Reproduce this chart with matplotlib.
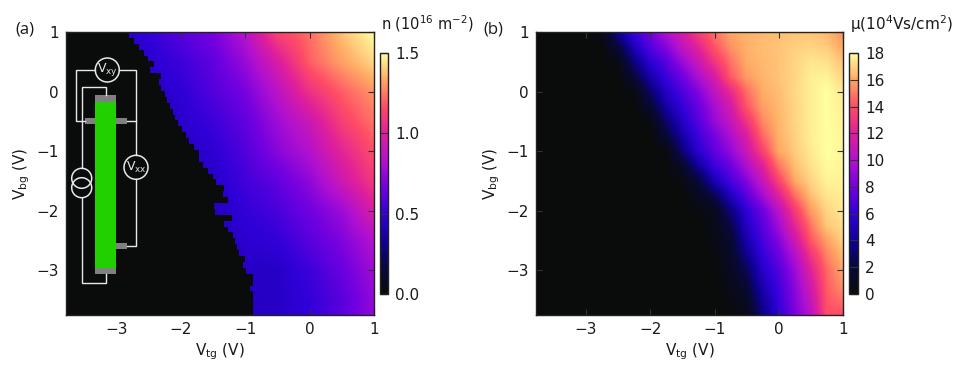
# -*- coding: utf-8 -*-
import numpy as np
import matplotlib
matplotlib.use("Agg")
import matplotlib.pyplot as plt
from matplotlib.colors import LinearSegmentedColormap
from matplotlib.patches import Rectangle, Circle

############################ DATA ##################################
# (a) carrier density read from the colours, 1e16 m^-2
n_vtg = [-3.0, -2.5, -2.0, -1.5, -1.0, -0.5, 0.0, 0.5, 1.0]
n_vbg = [1.0, 0.5, 0.0, -0.5, -1.0, -1.5, -2.0, -2.5, -3.0, -3.5]
n_map = [
    [.45, .50, .60, .68, .85, 1.14, 1.23, 1.38, 1.50],
    [.43, .47, .53, .62, .76, .97, 1.20, 1.32, 1.42],
    [.40, .44, .49, .58, .68, .86, 1.07, 1.20, 1.30],
    [.40, .42, .46, .53, .62, .78, .92, 1.12, 1.24],
    [.40, .40, .44, .48, .58, .72, .84, 1.02, 1.17],
    [.40, .40, .42, .45, .54, .62, .74, .93, 1.10],
    [.40, .40, .40, .43, .50, .56, .66, .77, .98],
    [.40, .40, .40, .42, .47, .50, .60, .70, .84],
    [.40, .40, .40, .41, .45, .45, .53, .64, .78],
    [.40, .40, .40, .41, .44, .45, .50, .60, .75],
]
# V_tg where the density starts, one value for each row of the measurement
n_onset = [-2.80, -2.72, -2.64, -2.57, -2.50, -2.41, -2.48, -2.30, -2.34, -2.30,
           -2.24, -2.22, -2.17, -2.12, -2.09, -2.04, -1.98, -1.92, -1.87, -1.80,
           -1.71, -1.71, -1.65, -1.57, -1.50, -1.45, -1.33, -1.34, -1.27, -1.48,
           -1.46, -1.21, -1.33, -1.27, -1.19, -1.16, -1.13, -1.10, -1.00, -1.03,
           -0.98, -0.88, -0.88, -0.92, -0.88, -0.88, -0.88, -0.88]

# (b) mobility, 1e4 Vs/cm2
mu_vtg = [-3.0, -2.75, -2.5, -2.25, -2.0, -1.75, -1.5, -1.25, -1.0, -0.75, -0.5,
          -0.25, 0.0, 0.25, 0.5, 0.75, 1.0]
mu_vbg = [1.0, 0.75, 0.5, 0.25, 0.0, -0.25, -0.5, -0.75, -1.0, -1.25, -1.5, -1.75,
          -2.0, -2.25, -2.5, -2.75, -3.0, -3.25, -3.5, -3.75]
mu_map = [
    [0, .5, 4, 6.5, 8, 10, 11.5, 13.5, 14.8, 16, 16.2, 16.4, 16.5, 16.6, 16.6, 16.4, 15.5],
    [0, 0, 2, 4.9, 7.1, 8.6, 10.6, 12.2, 14.2, 15.5, 16.2, 16.5, 16.6, 16.9, 17, 16.8, 16],
    [0, 0, .4, 3.4, 5.7, 7.2, 9.2, 11, 13.1, 14.8, 16.1, 16.4, 16.6, 17, 17.4, 17.3, 16.6],
    [0, 0, 0, 1.9, 4.5, 6.3, 7.9, 9.8, 11.6, 14.3, 15.7, 16.3, 16.6, 17, 17.6, 17.7, 17],
    [0, 0, 0, .3, 3, 5.3, 6.9, 8.5, 10.5, 12.55, 14.75, 16.1, 16.5, 17.1, 17.6, 18, 17.5],
    [0, 0, 0, 0, 1.6, 4.3, 6.1, 7.7, 9.6, 11.5, 14.2, 15.8, 16.4, 17, 17.6, 18, 17.6],
    [0, 0, 0, 0, .3, 3, 5.3, 7.1, 9.1, 10.7, 13, 15.3, 16.3, 17, 17.6, 18, 17.7],
    [0, 0, 0, 0, 0, 1.8, 4.3, 6.4, 8.1, 9.8, 11.8, 14.6, 16.2, 16.9, 17.6, 18, 17.8],
    [0, 0, 0, 0, 0, .2, 3.2, 5.7, 7.4, 9, 11, 13.6, 16, 16.8, 17.5, 18, 17.8],
    [0, 0, 0, 0, 0, 0, 1.4, 4, 6.3, 7.8, 9.8, 12, 14.9, 16.5, 17.3, 17.9, 17.8],
    [0, 0, 0, 0, 0, 0, .3, 1.9, 4.6, 6.7, 8.5, 10.8, 13.6, 16, 17, 17.7, 17.7],
    [0, 0, 0, 0, 0, 0, 0, .9, 2.5, 5.0, 7.2, 9.4, 12, 14.7, 16.5, 17.4, 17.6],
    [0, 0, 0, 0, 0, 0, 0, .2, .8, 3.3, 5.9, 7.8, 10.3, 13.3, 15.7, 17, 17.5],
    [0, 0, 0, 0, 0, 0, 0, 0, .6, 2.3, 5.2, 7.2, 9.4, 12.3, 14.9, 16.7, 17.2],
    [0, 0, 0, 0, 0, 0, 0, 0, .4, 1.6, 4.5, 6.7, 8.5, 11.1, 14.2, 15.8, 16.9],
    [0, 0, 0, 0, 0, 0, 0, 0, .2, 1.3, 3.6, 6.1, 7.7, 10, 13, 15.2, 16.4],
    [0, 0, 0, 0, 0, 0, 0, 0, 0, 1, 2.6, 5.4, 7, 9.2, 12.1, 14.6, 16],
    [0, 0, 0, 0, 0, 0, 0, 0, 0, .6, 1.9, 4.7, 6.6, 8.8, 11.4, 14.4, 15.5],
    [0, 0, 0, 0, 0, 0, 0, 0, 0, .3, 1.1, 4, 6.2, 8.5, 10.8, 14.2, 14.8],
    [0, 0, 0, 0, 0, 0, 0, 0, 0, .1, .5, 3.6, 5.8, 8.2, 10.2, 14, 14],
]

xticks = [-3, -2, -1, 0, 1]
yticks = [1, 0, -1, -2, -3]
n_ticks = [0.0, 0.5, 1.0, 1.5]
mu_ticks = [0, 2, 4, 6, 8, 10, 12, 14, 16, 18]

############################ STYLE #################################
W, H = 969, 380
black = '#0a0c0c'
ink = '#1a1a1a'
cmap = LinearSegmentedColormap.from_list('bgry', [
    (0.00, black), (0.11, '#08083a'), (0.22, '#100098'), (0.33, '#3000d8'),
    (0.44, '#7000e0'), (0.55, '#b010d0'), (0.67, '#e0209a'), (0.78, '#ff4c66'),
    (0.89, '#ffa864'), (1.00, '#ffff9f')])

plt.rcParams['text.color'] = ink
plt.rcParams['axes.labelcolor'] = ink
plt.rcParams['xtick.labelcolor'] = ink
plt.rcParams['ytick.labelcolor'] = ink

fig = plt.figure(figsize=(W / 100, H / 100), dpi=100)


def box(l, t, r, b):
    return [l / W, 1 - b / H, (r - l) / W, (b - t) / H]


def panel(rect, vals, xs, ys, vmin, vmax):
    ax = fig.add_axes(box(*rect))
    ax.set_facecolor(black)
    dx = xs[1] - xs[0]
    dy = ys[0] - ys[1]
    im = ax.imshow(vals, cmap=cmap, vmin=vmin, vmax=vmax, aspect='auto', zorder=1,
                   interpolation='bilinear',
                   extent=[xs[0] - dx / 2, xs[-1] + dx / 2, ys[-1] - dy / 2, ys[0] + dy / 2])
    ax.set_xlim(-3.78, 1)
    ax.set_ylim(-3.75, 1)
    ax.set_xticks(xticks)
    ax.set_yticks(yticks)
    ax.tick_params(direction='in', top=True, right=True, length=4.3, width=0.8,
                   color='#333333', labelsize=11, pad=5)
    for s in ax.spines.values():
        s.set_linewidth(1.0)
        s.set_color('#222222')
        s.set_zorder(5)
    ax.set_xlabel(r'V$_{\mathrm{tg}}$ (V)', fontsize=11, labelpad=3)
    ax.set_ylabel(r'V$_{\mathrm{bg}}$ (V)', fontsize=11, labelpad=3)
    return ax, im


def bar(rect, im, ticks):
    cax = fig.add_axes(box(*rect))
    cb = fig.colorbar(im, cax=cax, ticks=ticks)
    cb.ax.tick_params(direction='in', length=5.8, width=0.8, color='#333333', labelsize=11, pad=5)
    cb.outline.set_linewidth(1.0)
    cb.outline.set_edgecolor('#222222')
    return cb


def px_text(x, y, s, **kw):
    fig.text(x / W, 1 - y / H, s, va='center', **kw)


############################### PLOT ###############################
ax1, im1 = panel((66, 32, 374, 315), n_map, n_vtg, n_vbg, 0, 1.5)
ax2, im2 = panel((536, 32, 843, 315), mu_map, mu_vtg, mu_vbg, 0, 18)

# black region left of the density onset
edges = np.linspace(1, -3.75, len(n_onset) + 1)
ax1.fill_betweenx(edges, -3.78, n_onset + n_onset[-1:], step='post', color=black,
                  linewidth=0, antialiased=False, zorder=2)

bar((380, 53, 388, 294), im1, n_ticks)
bar((849, 53, 858, 294), im2, mu_ticks)

px_text(15, 30, '(a)', fontsize=12, family='Open Sans')
px_text(483, 30, '(b)', fontsize=12, family='Open Sans')
px_text(381, 24, r'n (10$^{16}$ m$^{-2}$)', fontsize=10.5)
px_text(850, 24, r'$\mathrm{\mu}$(10$^{4}$Vs/cm$^{2}$)', fontsize=11)

# device sketch, in figure pixels
sk = fig.add_axes([0, 0, 1, 1], zorder=10)
sk.set_xlim(0, W)
sk.set_ylim(H, 0)
sk.axis('off')

wires = [
    [(95.3, 70), (75.7, 70), (75.7, 120.7), (85, 120.7)],
    [(119.3, 70), (136, 70), (136, 155.3)],
    [(136, 120.7), (126.7, 120.7)],
    [(136, 179.3), (136, 245.7), (126.7, 245.7)],
    [(106, 95.3), (106, 86.7), (81.7, 86.7), (81.7, 168.3)],
    [(81.7, 197.7), (81.7, 283), (106, 283), (106, 274.3)],
]
for w in wires:
    xy = np.array(w)
    sk.plot(xy[:, 0], xy[:, 1], color='#e8e8e8', lw=1.0, solid_joinstyle='miter')

sk.add_patch(Rectangle((95.3, 101.7), 20.7, 166.6, color='#22d000', lw=0))
for x0, y0, w, h in [(95.3, 95.3, 20.7, 6.4), (95.3, 268.3, 20.7, 6), (85, 118, 10.3, 6),
                     (116, 118, 10.7, 6), (116, 242.7, 10.7, 6)]:
    sk.add_patch(Rectangle((x0, y0), w, h, color='#808080', lw=0))
for cx, cy, r in [(107.3, 70, 12), (136, 167.3, 12), (81.7, 178.3, 10), (81.7, 187.7, 10)]:
    sk.add_patch(Circle((cx, cy), r, fill=False, ec='#e8e8e8', lw=1.1))
sk.text(107.3, 70, r'V$_{\mathrm{xy}}$', color='#e8e8e8', fontsize=9, ha='center', va='center')
sk.text(136, 167.3, r'V$_{\mathrm{xx}}$', color='#e8e8e8', fontsize=9, ha='center', va='center')

fig.savefig('out.png', dpi=100)
